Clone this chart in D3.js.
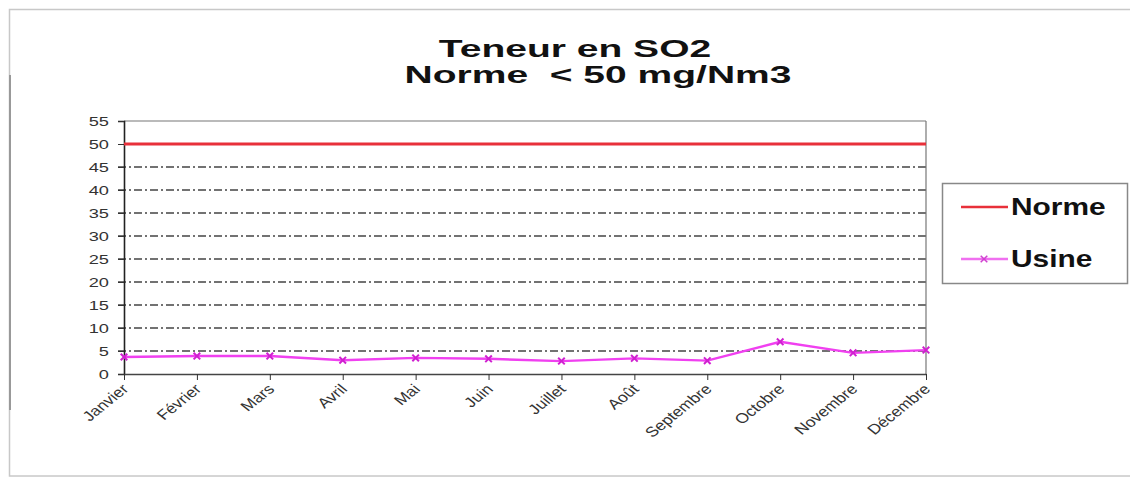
<!DOCTYPE html>
<html>
<head>
<meta charset="utf-8">
<script src="https://cdn.jsdelivr.net/npm/d3@7"></script>
<style>
  body { margin: 0; background: #fff; }
  text { font-family: "Liberation Sans", Arial, sans-serif; }
</style>
</head>
<body>
<div id="chart"></div>
<script>
// data
var months = ["Janvier", "Février", "Mars", "Avril", "Mai", "Juin", "Juillet",
  "Août", "Septembre", "Octobre", "Novembre", "Décembre"];
var usine = [3.7, 3.9, 3.9, 3.0, 3.5, 3.3, 2.8, 3.4, 2.9, 7.0, 4.6, 5.2];
var norme = [50, 50, 50, 50, 50, 50, 50, 50, 50, 50, 50, 50];
var yTicks = [0, 5, 10, 15, 20, 25, 30, 35, 40, 45, 50, 55];
var titleLines = ["Teneur en SO2", "Norme  < 50 mg/Nm3"];
var seriesNames = ["Norme", "Usine"];

var W = 1130, H = 477;
var margin = { top: 121, left: 124 },
  width = 802,
  height = 253;

var svg = d3.select("#chart").append("svg")
  .attr("width", W).attr("height", H);

// outer frame
svg.append("rect")
  .attr("x", 9.5).attr("y", 9.5)
  .attr("width", W).attr("height", 466.5)
  .attr("fill", "none").attr("stroke", "#c8c8c8").attr("stroke-width", 1.5);
svg.append("line")
  .attr("x1", 10).attr("x2", 10).attr("y1", 75).attr("y2", 410)
  .attr("stroke", "#999").attr("stroke-width", 2);

// title (source image is stretched horizontally)
svg.append("g").attr("transform", "translate(575,57) scale(1.66,1)")
  .append("text").attr("text-anchor", "middle")
  .attr("font-size", 23.5).attr("font-weight", "bold").attr("fill", "#111")
  .text(titleLines[0]);
svg.append("g").attr("transform", "translate(598,83) scale(1.66,1)")
  .append("text").attr("text-anchor", "middle")
  .attr("font-size", 23.5).attr("font-weight", "bold").attr("fill", "#111")
  .style("white-space", "pre")
  .text(titleLines[1]);

var g = svg.append("g")
  .attr("transform", "translate(" + margin.left + "," + margin.top + ")");

var x = d3.scalePoint().domain(months).range([0, width]);
var y = d3.scaleLinear().domain([0, 55]).range([height, 0]);

// gridlines
g.selectAll(".grid")
  .data(yTicks.filter(function(d) { return d > 0 && d < 50; }))
  .enter().append("line")
  .attr("x1", -6).attr("x2", width)
  .attr("y1", function(d) { return y(d); })
  .attr("y2", function(d) { return y(d); })
  .attr("stroke", "#444").attr("stroke-width", 1.3)
  .attr("stroke-dasharray", "8,3,2,3");

// plot frame top / right
g.append("line").attr("x1", 0).attr("x2", width).attr("y1", 0).attr("y2", 0)
  .attr("stroke", "#777").attr("stroke-width", 1.2);
g.append("line").attr("x1", width).attr("x2", width).attr("y1", 0).attr("y2", height)
  .attr("stroke", "#777").attr("stroke-width", 1.2);

// y axis
var yAxis = g.append("g")
  .call(d3.axisLeft(y).tickValues(yTicks).tickSize(6).tickPadding(4));
yAxis.select(".domain").attr("stroke", "#222").attr("stroke-width", 1.6);
yAxis.selectAll(".tick line").attr("stroke", "#333");
yAxis.selectAll(".tick text").remove();
yAxis.selectAll(".tick").append("g")
  .attr("transform", "translate(-15,0) scale(1.35,1)")
  .append("text")
  .attr("text-anchor", "end").attr("dy", "0.36em")
  .attr("font-size", 13.5).attr("fill", "#333")
  .text(function(d) { return d; });

// x axis
var xAxis = g.append("g")
  .attr("transform", "translate(0," + height + ")")
  .call(d3.axisBottom(x).tickSize(6).tickSizeOuter(0));
xAxis.select(".domain").attr("stroke", "#444").attr("stroke-width", 1.4);
xAxis.selectAll(".tick line").attr("stroke", "#333");
xAxis.selectAll(".tick text").remove();
xAxis.selectAll(".tick").append("g")
  .attr("transform", "translate(5,16) scale(1.25,1) rotate(-45)")
  .append("text")
  .attr("text-anchor", "end")
  .attr("font-size", 14).attr("fill", "#333")
  .text(function(d) { return d; });

// series
var line = d3.line()
  .x(function(d, i) { return x(months[i]); })
  .y(function(d) { return y(d); });

g.append("path").datum(norme)
  .attr("d", line)
  .attr("fill", "none").attr("stroke", "#e8303a").attr("stroke-width", 3);

g.append("path").datum(usine)
  .attr("d", line)
  .attr("fill", "none").attr("stroke", "#f040f0").attr("stroke-width", 2.4);

var marker = d3.symbol().type(d3.symbolX).size(30);
g.selectAll(".pt").data(usine).enter().append("path")
  .attr("transform", function(d, i) {
    return "translate(" + x(months[i]) + "," + y(d) + ")";
  })
  .attr("d", marker)
  .attr("fill", "none").attr("stroke", "#d020d0").attr("stroke-width", 2);

// legend
var legend = svg.append("g").attr("transform", "translate(942,183)");
legend.append("rect")
  .attr("x", 0.5).attr("y", 0.5).attr("width", 185).attr("height", 100)
  .attr("fill", "#fff").attr("stroke", "#888").attr("stroke-width", 1.5);
var legendColors = ["#e8303a", "#f070f0"];
var legendY = [24, 76];
seriesNames.forEach(function(name, i) {
  legend.append("line")
    .attr("x1", 19).attr("x2", 66)
    .attr("y1", legendY[i]).attr("y2", legendY[i])
    .attr("stroke", legendColors[i]).attr("stroke-width", 2.5);
  if (i === 1) {
    legend.append("path")
      .attr("transform", "translate(42," + legendY[i] + ")")
      .attr("d", marker)
      .attr("fill", "none").attr("stroke", "#d040d0").attr("stroke-width", 1.5);
  }
  legend.append("g")
    .attr("transform", "translate(69," + (legendY[i] + 8) + ") scale(1.3,1)")
    .append("text")
    .attr("font-size", 23).attr("font-weight", "bold").attr("fill", "#111")
    .text(name);
});
</script>
</body>
</html>
